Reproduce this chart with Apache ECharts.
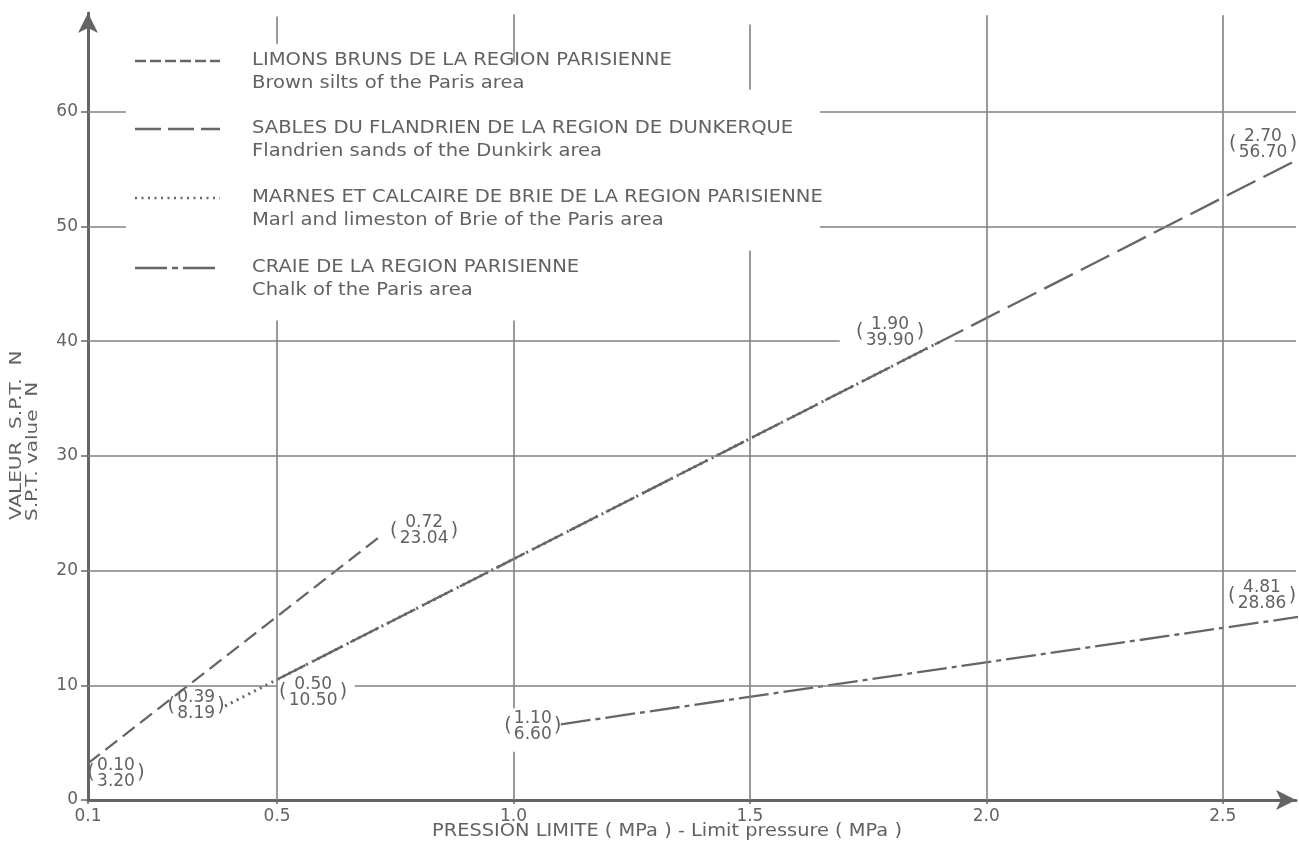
<!DOCTYPE html>
<html>
<head>
<meta charset="utf-8">
<script src="https://cdn.jsdelivr.net/npm/echarts@6/dist/echarts.min.js"></script>
<style>
html,body{margin:0;padding:0;background:#ffffff;}
#chart{width:1299px;height:847px;}
</style>
</head>
<body>
<div id="chart"></div>
<script>
// ---------------- DATA ----------------
const seriesNamesFr = [
  'LIMONS BRUNS DE LA REGION PARISIENNE',
  'SABLES DU FLANDRIEN DE LA REGION DE DUNKERQUE',
  'MARNES ET CALCAIRE DE BRIE DE LA REGION PARISIENNE',
  'CRAIE DE LA REGION PARISIENNE'
];
const seriesNamesEn = [
  'Brown silts of the Paris area',
  'Flandrien sands of the Dunkirk area',
  'Marl and limeston of Brie of the Paris area',
  'Chalk of the Paris area'
];
// pression limite (MPa) and N values (end points of each straight line)
const siltsP = [0.10, 0.72];
const siltsN = [3.20, 23.04];
const sandsP = [0.50, 2.70];
const sandsN = [10.50, 56.70];
const marlP  = [0.39, 1.90];
const marlN  = [8.19, 39.90];
const chalkP = [1.10, 4.81];
const chalkN = [6.60, 28.86];

const xTickValues = [0.1, 0.5, 1.0, 1.5, 2.0, 2.5];
const yTickValues = [0, 10, 20, 30, 40, 50, 60];

const xTitle = 'PRESSION LIMITE ( MPa ) - Limit pressure ( MPa )';
const yTitle1 = 'VALEUR  S.P.T.  N';
const yTitle2 = 'S.P.T. value  N';

// ---------------- STYLE / LAYOUT ----------------
const XMIN = 0.1, XMAX = 2.655, YMIN = 0, YMAX = 68.6;
const INK = '#626262';
const LINE = '#666666';
const GRIDC = '#828282';
const FAM = '"DejaVu Sans", sans-serif';
const FS = 17;

const dashStyles = [[15, 7], [32, 9], [2, 4.5], [30, 5, 5, 5]];
const legendDash = [[11, 4], [26, 7], [2, 4.5], [32, 5, 6, 5]];

function pts(px, ny) { return px.map((p, i) => [p, ny[i]]); }
const seriesData = [pts(siltsP, siltsN), pts(sandsP, sandsN), pts(marlP, marlN), pts(chalkP, chalkN)];

// annotation placement (pixel offsets from anchor)
const annots = [
  {s: 0, i: 0, dx: 28, dy: 10},
  {s: 0, i: 1, dx: 43, dy: -5},
  {s: 2, i: 0, dx: -29, dy: 0},
  {s: 1, i: 0, dx: 36, dy: 13},
  {s: 3, i: 0, dx: -28, dy: 2},
  {s: 2, i: 1, dx: -49, dy: -10},
  {s: 1, i: 1, dx: -33, dy: -5, atEdge: true},
  {s: 3, i: 1, dx: -34, dy: 127, atEdge: true}
];

// gridline segments (data units)
const gridSegs = [
  [0.1, 10, 0.5, 10], [0.664, 10, XMAX, 10],
  [0.1, 20, XMAX, 20],
  [0.1, 30, XMAX, 30],
  [0.1, 40, 1.69, 40], [1.933, 40, XMAX, 40],
  [0.1, 50, 0.18, 50], [1.648, 50, XMAX, 50],
  [0.1, 60, 0.18, 60], [1.648, 60, XMAX, 60],
  [0.5, 0, 0.5, 41.8], [0.5, 65.9, 0.5, 68.3],
  [1.0, 0, 1.0, 4.2], [1.0, 8.0, 1.0, 41.8], [1.0, 64.3, 1.0, 68.5],
  [1.5, 0, 1.5, 47.9], [1.5, 61.9, 1.5, 67.6],
  [2.0, 0, 2.0, 68.4],
  [2.5, 0, 2.5, 68.4]
];

const mctx = document.createElement('canvas').getContext('2d');
mctx.font = FS + 'px ' + FAM;
function tw(t) { return mctx.measureText(t).width; }

const chart = echarts.init(document.getElementById('chart'), null, {renderer: 'canvas'});

const lineSeries = seriesData.map((d, k) => ({
  name: seriesNamesFr[k],
  type: 'line',
  data: d,
  symbol: 'none',
  clip: true,
  z: k === 2 ? 4 : 3,
  lineStyle: {color: LINE, width: k === 2 ? 3 : 2.3, type: dashStyles[k], cap: 'butt'},
  animation: false
}));

const graphics = [];
const rowY = [61, 129, 198, 268];
rowY.forEach((y, k) => {
  graphics.push({type: 'line', shape: {x1: 135, y1: y, x2: 220, y2: y},
    style: {stroke: LINE, lineWidth: 2.3, lineDash: legendDash[k]}});
  graphics.push({type: 'text', x: 252, y: y, scaleX: 1.15,
    style: {text: seriesNamesFr[k], font: FS + 'px ' + FAM, fill: INK, verticalAlign: 'middle', align: 'left'}});
  graphics.push({type: 'text', x: 252, y: y + 23, scaleX: 1.15,
    style: {text: seriesNamesEn[k], font: FS + 'px ' + FAM, fill: INK, verticalAlign: 'middle', align: 'left'}});
});
graphics.push({type: 'text', x: 667, y: 832, scaleX: 1.14,
  style: {text: xTitle, font: FS + 'px ' + FAM, fill: INK, align: 'center', verticalAlign: 'middle'}});
graphics.push({type: 'text', x: 17, y: 520, rotation: Math.PI / 2, scaleX: 1.25,
  style: {text: yTitle1, font: '16px ' + FAM, fill: INK, align: 'left', verticalAlign: 'middle'}});
graphics.push({type: 'text', x: 33, y: 521, rotation: Math.PI / 2, scaleX: 1.25,
  style: {text: yTitle2, font: '16px ' + FAM, fill: INK, align: 'left', verticalAlign: 'middle'}});

const annotData = annots.map(a => {
  const pt = seriesData[a.s][a.i];
  return [a.atEdge ? XMAX : pt[0], pt[1]];
});

const option = {
  backgroundColor: '#ffffff',
  animation: false,
  grid: {left: 88, right: 3, top: 13, bottom: 47, containLabel: false},
  xAxis: {
    type: 'value', min: XMIN, max: XMAX,
    axisLine: {show: true, symbol: ['none', 'arrow'], symbolSize: [15, 20],
      lineStyle: {color: '#646464', width: 3}},
    axisTick: {show: true, customValues: xTickValues, length: 4, lineStyle: {color: '#666', width: 1.5}},
    axisLabel: {customValues: xTickValues, formatter: v => v.toFixed(1), color: INK,
      fontSize: FS, fontFamily: FAM, margin: 8},
    splitLine: {show: false}
  },
  yAxis: {
    type: 'value', min: YMIN, max: YMAX,
    axisLine: {show: true, onZero: false, symbol: ['none', 'arrow'], symbolSize: [15, 20],
      lineStyle: {color: '#646464', width: 3}},
    axisTick: {show: true, customValues: yTickValues, length: 7, lineStyle: {color: '#666', width: 1.5}},
    axisLabel: {customValues: yTickValues, color: INK, fontSize: FS, fontFamily: FAM, margin: 10},
    splitLine: {show: false}
  },
  graphic: graphics,
  series: [
    {
      type: 'line', data: [], z: 1, silent: true,
      markLine: {
        silent: true, symbol: ['none', 'none'], animation: false,
        label: {show: false},
        lineStyle: {color: GRIDC, width: 1.6, type: 'solid'},
        emphasis: {disabled: true},
        data: gridSegs.map(s => [{coord: [s[0], s[1]]}, {coord: [s[2], s[3]]}])
      }
    },
    ...lineSeries,
    {
      type: 'custom', name: 'labels', data: annotData, clip: false, z: 5, silent: true,
      renderItem: function (params, api) {
        const a = annots[params.dataIndex];
        const pt = seriesData[a.s][a.i];
        const c = api.coord([api.value(0), api.value(1)]);
        const cx = c[0] + a.dx, cy = c[1] + a.dy;
        const t1 = pt[0].toFixed(2), t2 = pt[1].toFixed(2);
        const w = Math.max(tw(t1), tw(t2));
        const f = FS + 'px ' + FAM;
        return {
          type: 'group',
          children: [
            {type: 'text', style: {text: t1, x: cx, y: cy - 8, font: f, fill: INK, align: 'center', verticalAlign: 'middle'}},
            {type: 'text', style: {text: t2, x: cx, y: cy + 8, font: f, fill: INK, align: 'center', verticalAlign: 'middle'}},
            {type: 'text', style: {text: '(', x: cx - w / 2 - 6, y: cy, font: '19px ' + FAM, fill: INK, align: 'center', verticalAlign: 'middle'}},
            {type: 'text', style: {text: ')', x: cx + w / 2 + 6, y: cy, font: '19px ' + FAM, fill: INK, align: 'center', verticalAlign: 'middle'}}
          ]
        };
      }
    }
  ]
};
chart.setOption(option);
</script>
</body>
</html>
